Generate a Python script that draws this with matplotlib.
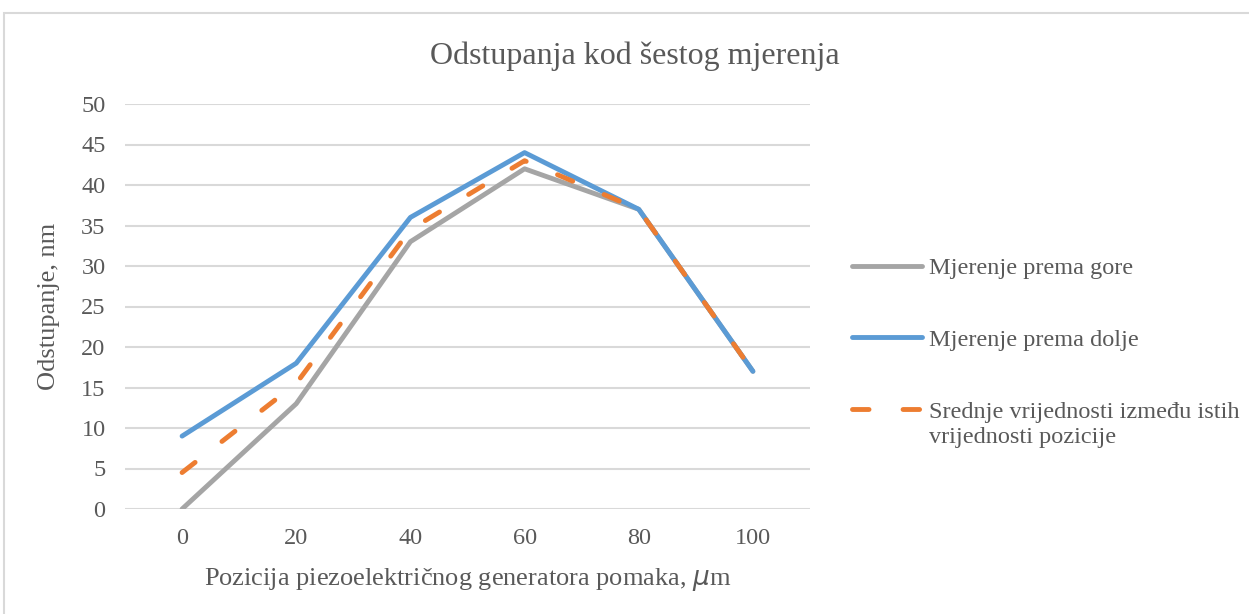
import matplotlib
matplotlib.use("Agg")
import matplotlib.pyplot as plt
from matplotlib.patches import Rectangle

positions = ["0", "20", "40", "60", "80", "100"]
up_nm = [0, 13, 33, 42, 37, 17]
down_nm = [9, 18, 36, 44, 37, 17]
mean_nm = [4.5, 15.5, 34.5, 43, 37, 17]
series_names = ["Mjerenje prema gore", "Mjerenje prema dolje", "Srednje vrijednosti između istih"]
wrap_line = "vrijednosti pozicije"

TXT = "#595959"
GRID = "#D9D9D9"
plt.rcParams["font.family"] = ["Liberation Serif", "DejaVu Serif"]

W, H = 1249, 614
fig = plt.figure(figsize=(W / 100, H / 100), dpi=100)
fig.patches.append(Rectangle((4 / W, -0.1), 1.2, (H - 13) / H + 0.1, transform=fig.transFigure,
                             fill=False, edgecolor=GRID, linewidth=1.5))

ax = fig.add_axes([125 / W, (H - 509) / H, (810 - 125) / W, (509 - 104) / H])
x = range(len(positions))
lw = 3.5
ax.plot(x, up_nm, color="#A5A5A5", lw=lw, solid_capstyle="round", solid_joinstyle="round",
        label=series_names[0], zorder=3)
ax.plot(x, down_nm, color="#5B9BD5", lw=lw, solid_capstyle="round", solid_joinstyle="round",
        label=series_names[1], zorder=4)
ax.plot(x, mean_nm, color="#ED7D31", lw=lw, linestyle=(0, (3.4, 7.0)), dash_capstyle="round",
        label=series_names[2], zorder=5)

ax.set_xlim(-0.5, len(positions) - 0.5)
ax.set_ylim(0, 50)
ax.set_yticks(range(0, 51, 5))
ax.set_xticks(list(x))
ax.set_xticklabels(positions)
ax.grid(axis="y", color=GRID, lw=1.5)
ax.set_axisbelow(True)
for s in ax.spines.values():
    s.set_visible(False)
ax.tick_params(length=0, colors=TXT, labelsize=17.5)
ax.tick_params(axis="y", pad=14)
ax.tick_params(axis="x", pad=14)

ax.set_ylabel("Odstupanje, nm", color=TXT, fontsize=19, labelpad=15)
ax.set_xlabel("Pozicija piezoelektričnog generatora pomaka, $\\mu$m", color=TXT, fontsize=19, labelpad=12)
fig.text(635 / W, 1 - 56 / H, "Odstupanja kod šestog mjerenja", color=TXT, fontsize=23,
         ha="center", va="center")

leg = fig.legend(loc="upper left", bbox_to_anchor=(852 / W, 1 - 257 / H), frameon=False,
                 fontsize=17.5, labelcolor=TXT, handlelength=2.9, handletextpad=0.25,
                 labelspacing=2.05, borderpad=0, borderaxespad=0)

# second line of the last legend entry, kept under its first line
fig.canvas.draw()
last = leg.get_texts()[-1]
bb = last.get_window_extent()
fig.text(bb.x0 / W, (bb.y0 - 4) / H, wrap_line, color=TXT, fontsize=17.5, ha="left", va="top")

fig.savefig("out.png", dpi=100, facecolor="white")
